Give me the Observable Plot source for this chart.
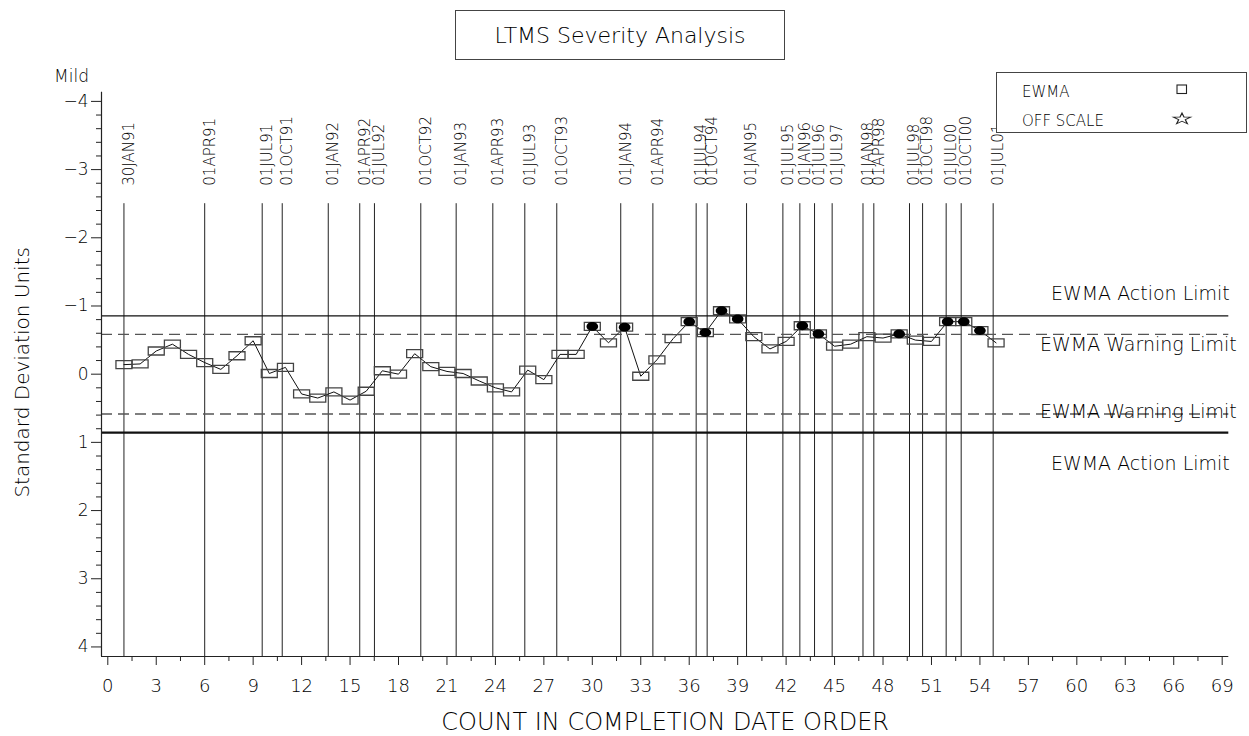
<!DOCTYPE html>
<html>
<head>
<meta charset="utf-8">
<script src="https://cdn.jsdelivr.net/npm/d3@7"></script>
<script src="https://cdn.jsdelivr.net/npm/@observablehq/plot@0.6"></script>
<style>
  body { margin: 0; background: #fff; }
  #wrap { position: relative; width: 1249px; height: 736px; font-family: 'DejaVu Sans', 'Liberation Sans', sans-serif; font-weight: 200; color: #000; }
  #chart { position: absolute; left: 0; top: 0; }
  #title { position: absolute; left: 455px; top: 10px; width: 330px; height: 50px; box-sizing: border-box; border: 1px solid #444; display: flex; align-items: center; justify-content: center; font-size: 22px; background: #fff; }
  #legend { position: absolute; left: 996px; top: 72px; }
</style>
</head>
<body>
<div id="wrap">
  <div id="chart"></div>
  <div id="title">LTMS Severity Analysis</div>
  <svg id="legend" width="251" height="61"></svg>
</div>
<script>
// ---------------- data ----------------
const counts = d3.range(1, 56);
const ewma = [
  -0.14, -0.15, -0.34, -0.44, -0.29, -0.17, -0.07, -0.27, -0.49, -0.01,
  -0.10,  0.29,  0.35,  0.26,  0.38,  0.25, -0.05,  0.00, -0.30, -0.11,
  -0.04, -0.01,  0.10,  0.20,  0.26, -0.06,  0.08, -0.29, -0.29, -0.70,
  -0.46, -0.69,  0.03, -0.21, -0.52, -0.77, -0.61, -0.93, -0.81, -0.55,
  -0.37, -0.48, -0.71, -0.59, -0.41, -0.44, -0.55, -0.53, -0.59, -0.50,
  -0.48, -0.77, -0.77, -0.64, -0.46
];
const flaggedCounts = [30, 32, 36, 37, 38, 39, 43, 44, 49, 52, 53, 54];
const dateLabels = [
  "30JAN91", "01APR91", "01JUL91", "01OCT91", "01JAN92", "01APR92", "01JUL92",
  "01OCT92", "01JAN93", "01APR93", "01JUL93", "01OCT93", "01JAN94", "01APR94",
  "01JUL94", "01OCT94", "01JAN95", "01JUL95", "01JAN96", "01JUL96", "01JUL97",
  "01JAN98", "01APR98", "01JUL98", "01OCT98", "01JUL00", "01OCT00", "01JUL01"
];
const datePositions = [
  1.0, 6.0, 9.56, 10.8, 13.65, 15.6, 16.51, 19.38, 21.57, 23.84, 25.82, 27.8,
  31.76, 33.75, 36.43, 37.11, 39.55, 41.8, 42.85, 43.76, 44.85, 46.76, 47.43,
  49.64, 50.45, 51.91, 52.84, 54.82
];
const xTicks = d3.range(0, 70, 3);
const xMinorTicks = d3.range(1.5, 69, 3);
const yTicks = d3.range(-4, 5, 1);
const yMinorTicks = d3.range(-40, 41, 2).filter(v => v % 10 !== 0).map(v => v / 10);
const actionLimit = 0.856;
const warningLimit = 0.584;
const dateLineTop = -2.5;
const xDomain = [-0.39, 69.41];
const yDomain = [-4.135, 4.14];

// ---------------- build ----------------
const FONT = "'DejaVu Sans', 'Liberation Sans', sans-serif";
const rows = counts.map((c, i) => ({count: c, ewma: ewma[i]}));
const flagged = rows.filter(r => flaggedCounts.includes(r.count));
const dates = dateLabels.map((d, i) => ({label: d, pos: datePositions[i]}));

const rectSymbol = { draw(ctx) { ctx.rect(-8, -4, 16, 8); } };
const ellipseSymbol = { draw(ctx) {
  const rx = 5.8, ry = 4.4, k = 0.5523;
  ctx.moveTo(rx, 0);
  ctx.bezierCurveTo(rx, ry * k, rx * k, ry, 0, ry);
  ctx.bezierCurveTo(-rx * k, ry, -rx, ry * k, -rx, 0);
  ctx.bezierCurveTo(-rx, -ry * k, -rx * k, -ry, 0, -ry);
  ctx.bezierCurveTo(rx * k, -ry, rx, -ry * k, rx, 0);
  ctx.closePath();
} };

const fmt = d => (d < 0 ? "\u2212" : "") + Math.abs(d);

const chart = Plot.plot({
  width: 1249,
  height: 736,
  marginLeft: 101,
  marginRight: 20.7,
  marginTop: 91.7,
  marginBottom: 80,
  style: {fontFamily: FONT, fontWeight: 200, background: "transparent", color: "#000"},
  x: {domain: xDomain, axis: null},
  y: {domain: yDomain, reverse: true, axis: null},
  marks: [
    // date reference lines
    Plot.ruleX(dates, {x: "pos", y1: dateLineTop, y2: yDomain[1], stroke: "#222", strokeWidth: 1}),
    Plot.text(dates, {x: "pos", y: dateLineTop, text: "label", rotate: -90, textAnchor: "start",
      dx: 5, dy: -18, fontSize: 15, fill: "#000"}),
    // limit lines
    Plot.ruleY([-actionLimit], {stroke: "#111", strokeWidth: 1.2}),
    Plot.ruleY([actionLimit], {stroke: "#111", strokeWidth: 2.2}),
    Plot.ruleY([-warningLimit, warningLimit], {stroke: "#555", strokeWidth: 1.4, strokeDasharray: "11,6"}),
    // limit labels
    Plot.text(["EWMA Action Limit"], {x: xDomain[1], y: -actionLimit, textAnchor: "end", dx: 1, dy: -22, fontSize: 19, fill: "#000"}),
    Plot.text(["EWMA Warning Limit"], {x: xDomain[1], y: -warningLimit, textAnchor: "end", dx: 8, dy: 11, fontSize: 19, fill: "#000"}),
    Plot.text(["EWMA Warning Limit"], {x: xDomain[1], y: warningLimit, textAnchor: "end", dx: 8, dy: -2, fontSize: 19, fill: "#000"}),
    Plot.text(["EWMA Action Limit"], {x: xDomain[1], y: actionLimit, textAnchor: "end", dx: 1, dy: 31, fontSize: 19, fill: "#000"}),
    // series
    Plot.line(rows, {x: "count", y: "ewma", stroke: "#111", strokeWidth: 1}),
    Plot.dot(rows, {x: "count", y: "ewma", symbol: rectSymbol, r: 8, stroke: "#444", strokeWidth: 1.3, fill: "none"}),
    Plot.dot(flagged, {x: "count", y: "ewma", symbol: ellipseSymbol, r: 6, fill: "#000", stroke: "none"}),
    // axis lines
    Plot.ruleX([xDomain[0]], {y1: yDomain[0], y2: yDomain[1], stroke: "#222", strokeWidth: 1.2}),
    Plot.ruleY([yDomain[1]], {x1: xDomain[0], x2: xDomain[1], stroke: "#222", strokeWidth: 1.2}),
    // y axis
    Plot.axisY(yTicks, {tickSize: 10, tickPadding: 3, fontSize: 17, tickFormat: fmt, label: null, stroke: "#222"}),
    Plot.axisY(yMinorTicks, {tickSize: 5, tickFormat: () => "", label: null, stroke: "#222"}),
    // x axis
    Plot.axisX(xTicks, {tickSize: 9, tickPadding: 14, fontSize: 18, label: null, stroke: "#222"}),
    Plot.axisX(xMinorTicks, {tickSize: 5, tickFormat: () => "", label: null, stroke: "#222"}),
    // axis titles
    Plot.text(["Standard Deviation Units"], {frameAnchor: "left", textAnchor: "middle", lineAnchor: "middle", rotate: -90, dx: -79, dy: -2, fontSize: 20, fill: "#000"}),
    Plot.text(["COUNT IN COMPLETION DATE ORDER"], {frameAnchor: "bottom", textAnchor: "middle", lineAnchor: "middle", dy: 66, fontSize: 24, fill: "#000"}),
    Plot.text(["Mild"], {frameAnchor: "top-left", textAnchor: "middle", lineAnchor: "middle", dx: -30, dy: -16, fontSize: 17, fill: "#000"})
  ]
});
document.getElementById("chart").appendChild(chart);

// ---------------- legend ----------------
const legend = d3.select("#legend");
legend.append("rect").attr("x", 0.5).attr("y", 0.5).attr("width", 250).attr("height", 60)
  .attr("fill", "#fff").attr("stroke", "#444");
const legendItems = [
  {label: "EWMA", y: 20},
  {label: "OFF SCALE", y: 49}
];
legend.selectAll("text").data(legendItems).join("text")
  .attr("x", 26).attr("y", d => d.y).attr("dy", "0.35em")
  .attr("font-size", 15).attr("font-family", FONT).attr("font-weight", 200).attr("fill", "#000")
  .text(d => d.label);
legend.append("rect").attr("x", 181).attr("y", 13).attr("width", 9.5).attr("height", 8.5)
  .attr("fill", "none").attr("stroke", "#222").attr("stroke-width", 1.1);
legend.append("path").attr("d", d3.symbol(d3.symbolStar, 70)())
  .attr("transform", "translate(186,47) scale(1.15,0.75)")
  .attr("fill", "none").attr("stroke", "#222").attr("stroke-width", 1.1);
</script>
</body>
</html>
